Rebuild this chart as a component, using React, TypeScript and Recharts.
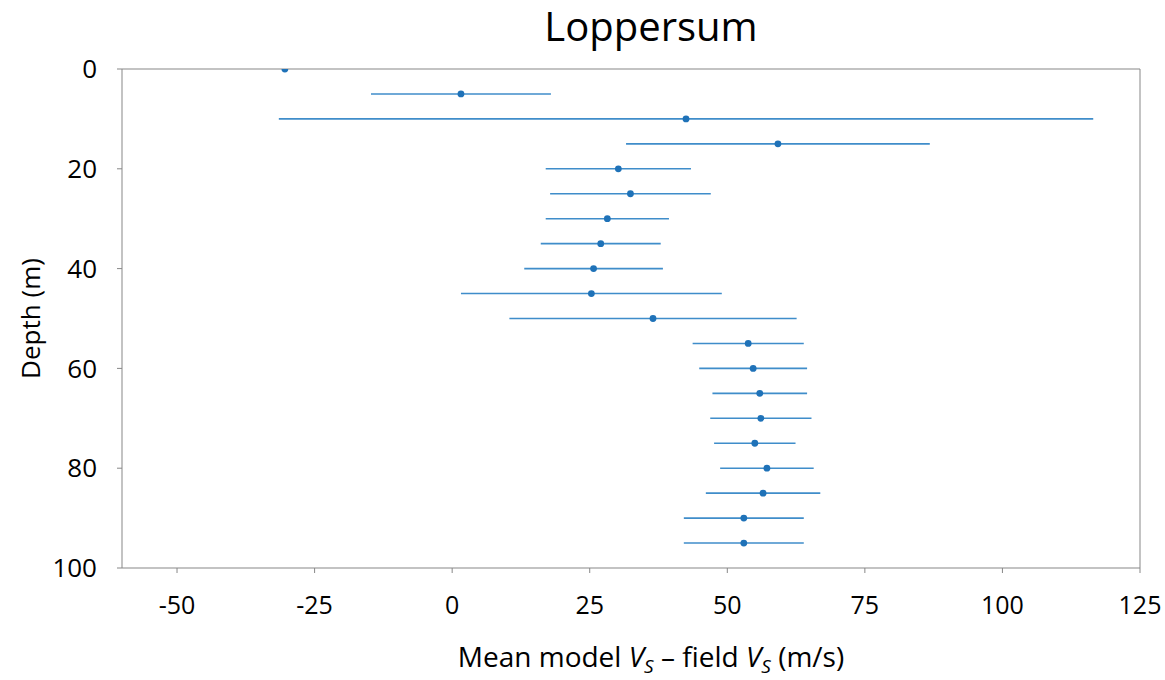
import React from "react";
import {
  ScatterChart,
  Scatter,
  XAxis,
  YAxis,
  ErrorBar,
  ReferenceLine,
} from "recharts";

// depth (m) of each layer, mean model Vs - field Vs (m/s), half-width of the bar
const depths = [0, 5, 10, 15, 20, 25, 30, 35, 40, 45, 50, 55, 60, 65, 70, 75, 80, 85, 90, 95];
const meanDiff = [
  -30.4, 1.6, 42.5, 59.2, 30.2, 32.4, 28.2, 27.0, 25.7, 25.3,
  36.5, 53.8, 54.7, 55.9, 56.1, 55.0, 57.2, 56.5, 53.0, 53.0,
];
const spread = [
  0, 16.35, 74.0, 27.6, 13.2, 14.6, 11.2, 10.9, 12.6, 23.7,
  26.1, 10.1, 9.8, 8.6, 9.2, 7.4, 8.5, 10.4, 10.9, 10.9,
];

const xTicks = [-50, -25, 0, 25, 50, 75, 100, 125];
const yTicks = [0, 20, 40, 60, 80, 100];

const FONT = "'Open Sans', sans-serif";
const AXIS = "#878787";
const DOT = "#1f72b8";
const BAR = "#3f8dca";

const data = depths.map((d, i) => ({ depth: d, diff: meanDiff[i], err: spread[i] }));

function XLabel() {
  return (
    <text x={651} y={667} textAnchor="middle" fontFamily={FONT} fontSize={28} fill="#000">
      Mean model <tspan fontStyle="italic">V</tspan>
      <tspan fontSize={19} dy={6} fontStyle="italic">S</tspan>
      <tspan dy={-6}> – field </tspan>
      <tspan fontStyle="italic">V</tspan>
      <tspan fontSize={19} dy={6} fontStyle="italic">S</tspan>
      <tspan dy={-6}> (m/s)</tspan>
    </text>
  );
}

function YLabel({ viewBox }: any) {
  const cx = 30;
  const cy = viewBox.y + viewBox.height / 2;
  return (
    <text
      x={cx}
      y={cy}
      transform={`rotate(-90 ${cx} ${cy})`}
      textAnchor="middle"
      dominantBaseline="central"
      fontFamily={FONT}
      fontSize={26}
      fill="#000"
    >
      Depth (m)
    </text>
  );
}

const Dot = (p: any) => <circle cx={p.cx} cy={p.cy} r={3.4} fill={DOT} />;

export default function App() {
  return (
    <div style={{ position: "absolute", left: 0, top: 0, width: 1165, height: 680, background: "#fff" }}>
      <div
        style={{
          position: "absolute",
          left: 0,
          top: 6,
          width: 1302,
          textAlign: "center",
          fontFamily: FONT,
          fontSize: 40,
          lineHeight: "40px",
          color: "#000",
        }}
      >
        Loppersum
      </div>
      <ScatterChart width={1165} height={680} margin={{ top: 69, right: 25, bottom: 42, left: 0 }}>
        <XAxis
          type="number"
          dataKey="diff"
          domain={[-60, 125]}
          ticks={xTicks}
          allowDataOverflow
          height={70}
          tickSize={5}
          tickMargin={23}
          stroke={AXIS}
          tick={{ fontFamily: FONT, fontSize: 25, fill: "#000" }}
          label={<XLabel />}
        />
        <YAxis
          type="number"
          dataKey="depth"
          domain={[0, 100]}
          ticks={yTicks}
          reversed
          allowDataOverflow
          width={122}
          tickSize={5}
          tickMargin={20}
          stroke={AXIS}
          tick={{ fontFamily: FONT, fontSize: 26, fill: "#000" }}
          label={<YLabel />}
        />
        <ReferenceLine y={0} stroke={AXIS} strokeWidth={1} />
        <ReferenceLine x={125} stroke={AXIS} strokeWidth={1} />
        <Scatter data={data} shape={<Dot />} isAnimationActive={false}>
          <ErrorBar dataKey="err" direction="x" width={0} stroke={BAR} strokeWidth={1.6} isAnimationActive={false} />
        </Scatter>
      </ScatterChart>
    </div>
  );
}
